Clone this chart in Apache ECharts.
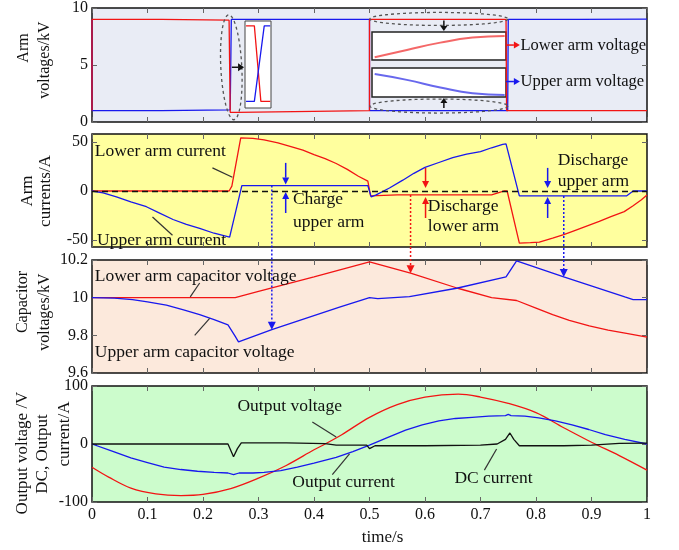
<!DOCTYPE html>
<html>
<head>
<meta charset="utf-8">
<script src="https://cdn.jsdelivr.net/npm/echarts@6/dist/echarts.min.js"></script>
<style>
  html, body { margin: 0; padding: 0; background: #fff; }
  #main { width: 679px; height: 550px; }
</style>
</head>
<body>
<div id="main"></div>
<script>
// ---- arm voltages (kV) ----
const armUpperT = [0, 0, 0.125, 0.126, 0.249, 0.251, 0.5, 0.5, 0.749, 0.75, 0.878, 0.879, 1]
const armUpperV = [9, 1, 1, 1.07, 1.07, 9, 9, 1, 1, 9, 9, 9.03, 9.03]
const armLowerT = [0, 0, 0.125, 0.126, 0.247, 0.249, 0.262, 0.264, 0.5, 0.5, 0.746, 0.747, 1]
const armLowerV = [1, 9, 9, 8.93, 8.93, 0.85, 0.85, 1.0, 1.0, 9, 9, 1, 1]
// zoomed insets of the arm voltage
const zoomSwapT = [0.04, 0.36, 0.61, 0.97]
const zoomSwapLower = [9, 9, 1, 1]
const zoomSwapUpperT = [0.04, 0.36, 0.74, 0.97]
const zoomSwapUpper = [1, 1, 9, 9]
const zoomRippleT = [0.02, 0.26, 0.51, 0.75, 0.99]
const zoomRippleLower = [0.1, 0.36, 0.62, 0.8, 0.86]
const zoomRippleUpper = [0.79, 0.59, 0.33, 0.13, 0.07]

// ---- arm currents (A) ----
const curLowerT = [0, 0.247, 0.252, 0.268, 0.29, 0.31, 0.335, 0.36, 0.38, 0.4, 0.42, 0.44, 0.46, 0.48, 0.497, 0.502, 0.55, 0.6, 0.65, 0.72, 0.743, 0.748, 0.77, 0.79, 0.806, 0.83, 0.85, 0.866, 0.89, 0.914, 0.935, 0.959, 0.975, 0.99, 1]
const curLowerV = [0, 0, 5, 54, 53.5, 52, 49, 45, 41.5, 37, 33, 28, 22, 15, 10, -5, -4, -4, -4, -4, 0, 0, -53, -52.5, -52, -48, -44.5, -41, -36, -31, -26, -21, -15, -9, -4]
const curUpperT = [0, 0.02, 0.044, 0.07, 0.098, 0.12, 0.146, 0.17, 0.194, 0.22, 0.248, 0.27, 0.4, 0.497, 0.503, 0.512, 0.536, 0.56, 0.58, 0.6, 0.625, 0.65, 0.675, 0.7, 0.72, 0.74, 0.746, 0.77, 0.9, 0.963, 0.975, 1]
const curUpperV = [0, -2, -6, -11, -16, -22, -29, -34, -38, -43, -47, 5.5, 5.5, 5.5, -6, -4, 3, 11, 18, 24, 29, 34, 37.5, 40, 44, 47.5, 48, -5, -5, -5, 0, 0]

// ---- capacitor voltages (kV) ----
const capLowerT = [0, 0.258, 0.3, 0.4, 0.45, 0.5, 0.574, 0.659, 0.72, 0.765, 0.8, 0.83, 0.86, 0.896, 0.93, 0.963, 1]
const capLowerV = [10, 10, 10.033, 10.11, 10.15, 10.19, 10.13, 10.05, 10.0, 9.985, 9.945, 9.91, 9.88, 9.85, 9.828, 9.81, 9.79]
const capUpperT = [0, 0.04, 0.073, 0.1, 0.134, 0.165, 0.194, 0.22, 0.245, 0.257, 0.264, 0.324, 0.446, 0.5, 0.515, 0.572, 0.657, 0.746, 0.765, 0.85, 0.96, 0.975, 1]
const capUpperV = [10, 9.998, 9.99, 9.978, 9.96, 9.935, 9.91, 9.883, 9.855, 9.8, 9.765, 9.83, 9.95, 10.0, 9.995, 10.005, 10.05, 10.11, 10.195, 10.11, 10.004, 9.99, 9.99]

// ---- output voltage / currents ----
const outVoltT = [0, 0.03, 0.07, 0.115, 0.16, 0.2, 0.25, 0.3, 0.35, 0.4, 0.42, 0.45, 0.5, 0.55, 0.6, 0.66, 0.7, 0.75, 0.8, 0.85, 0.9, 0.95, 1]
const outVolt = [-40, -57, -76, -86, -89, -87, -77, -59, -37, -10, 0, 16, 46, 68, 81, 86, 81, 70, 54, 28, 3, -20, -45]
const outCurT = [0, 0.035, 0.07, 0.1, 0.13, 0.16, 0.19, 0.22, 0.245, 0.255, 0.265, 0.29, 0.31, 0.34, 0.37, 0.4, 0.44, 0.47, 0.5, 0.53, 0.565, 0.595, 0.625, 0.655, 0.685, 0.715, 0.745, 0.75, 0.755, 0.78, 0.805, 0.835, 0.865, 0.895, 0.925, 0.96, 1]
const outCur = [0, -12, -24, -32, -40, -44, -47, -49, -50, -53, -50, -50, -49, -46, -40, -33, -23, -13, -2, 10, 24, 33, 40, 44, 46, 48, 49, 51, 49, 48, 45, 40, 33, 25, 16, 8, 0]
const dcCurT = [0, 0.245, 0.255, 0.262, 0.269, 0.35, 0.42, 0.44, 0.495, 0.5, 0.51, 0.6, 0.7, 0.73, 0.745, 0.753, 0.76, 0.77, 0.85, 0.9, 0.95, 1]
const dcCur = [0, 0, -22, -8, 2, 2, 0.5, -2, -2, -8, -3, -3, -2, 0, 8, 19, 8, -3, -3, -2, 1, 1.5]

// axis ranges / tick labels
const timeRange = [0, 1]
const yRanges = [[0, 10], [-57, 58], [9.6, 10.2], [-100, 100]]
const yTicks = [[0, 5, 10], [-50, 0, 50], [9.6, 9.8, 10, 10.2], [-100, 0, 100]]

const FONT = 'Liberation Serif'
const RED = '#f21414'
const BLUE = '#1818ee'
const INK = '#111'
const panels = [
  { top: 8, height: 114, bg: '#e9ecf5' },
  { top: 134, height: 113, bg: '#ffff9e' },
  { top: 260, height: 113, bg: '#fce9dc' },
  { top: 386, height: 116, bg: '#ccfccc' },
]
const insets = [
  { left: 245, top: 21, width: 26, height: 87, border: '#444', bw: 1, y: [0.3, 9.52] },
  { left: 372, top: 32, width: 134, height: 28, border: '#222', bw: 1.5, y: [0, 1] },
  { left: 372, top: 68, width: 134, height: 29, border: '#222', bw: 1.5, y: [0, 1] },
]

const zip = (t, v) => t.map((x, i) => [x, v[i]])
const chart = echarts.init(document.getElementById('main'))

function line(ax, t, v, color, extra) {
  return Object.assign({
    type: 'line', xAxisIndex: ax, yAxisIndex: ax, data: zip(t, v),
    showSymbol: false, symbol: 'none', animation: false, z: 3,
    lineStyle: { color: color, width: 1.3 }, itemStyle: { color: color },
  }, extra || {})
}

const tickStyle = { inside: true, length: 5, lineStyle: { color: '#666', width: 1 } }
const labelStyle = { fontFamily: FONT, fontSize: 16, color: INK }

const grid = panels.map(p => ({
  left: 92, width: 555, top: p.top, height: p.height, show: true,
  backgroundColor: p.bg, borderColor: INK, borderWidth: 1.5,
})).concat(insets.map(s => ({
  left: s.left, top: s.top, width: s.width, height: s.height, show: true, z: 3,
  backgroundColor: '#fff', borderColor: s.border, borderWidth: s.bw,
})))

const xAxis = []
const yAxis = []
// 0..3 bottom/left axes, 4..7 top/right axes, 8..10 inset axes
;['bottom', 'top'].forEach((pos, k) => {
  panels.forEach((p, i) => {
    xAxis.push({
      gridIndex: i, type: 'value', position: pos, min: timeRange[0], max: timeRange[1], interval: 0.1,
      axisLine: { show: false, onZero: false }, axisTick: tickStyle, splitLine: { show: false },
      axisLabel: Object.assign({ show: k === 0 && i === 3, margin: 5 }, labelStyle),
      name: k === 0 && i === 3 ? 'time/s' : '', nameLocation: 'middle', nameGap: 27,
      nameTextStyle: { fontFamily: FONT, fontSize: 17, color: INK, padding: [0, 0, 0, 26] },
    })
  })
})
;['left', 'right'].forEach((pos, k) => {
  panels.forEach((p, i) => {
    yAxis.push({
      gridIndex: i, type: 'value', position: pos, min: yRanges[i][0], max: yRanges[i][1],
      axisLine: { show: false, onZero: false }, splitLine: { show: false },
      axisTick: Object.assign({ customValues: yTicks[i] }, tickStyle),
      axisLabel: Object.assign({ show: k === 0, margin: 4, customValues: yTicks[i] }, labelStyle),
    })
  })
})
insets.forEach((s, j) => {
  xAxis.push({ gridIndex: 4 + j, type: 'value', min: 0, max: 1, show: false })
  yAxis.push({ gridIndex: 4 + j, type: 'value', min: s.y[0], max: s.y[1], show: false })
})

const series = [
  line(0, armUpperT, armUpperV, BLUE),
  line(0, armLowerT, armLowerV, RED),
  line(8, zoomSwapT, zoomSwapLower, RED, { z: 5 }),
  line(8, zoomSwapUpperT, zoomSwapUpper, BLUE, { z: 5 }),
  line(9, zoomRippleT, zoomRippleLower, 'rgba(240,40,40,0.7)', { z: 5, smooth: true, lineStyle: { color: 'rgba(240,40,40,0.7)', width: 2 } }),
  line(10, zoomRippleT, zoomRippleUpper, 'rgba(40,40,230,0.7)', { z: 5, smooth: true, lineStyle: { color: 'rgba(40,40,230,0.7)', width: 2 } }),
  line(1, curLowerT, curLowerV, RED),
  line(1, curUpperT, curUpperV, BLUE, {
    markLine: {
      silent: true, symbol: 'none', label: { show: false }, animation: false,
      lineStyle: { color: INK, type: [6, 4], width: 1.3 }, data: [{ yAxis: 0 }],
    },
  }),
  line(2, capLowerT, capLowerV, RED),
  line(2, capUpperT, capUpperV, BLUE),
  line(3, outVoltT, outVolt, RED, { smooth: 0.35 }),
  line(3, outCurT, outCur, BLUE),
  line(3, dcCurT, dcCur, INK),
]

chart.setOption({ animation: false, grid: grid, xAxis: xAxis, yAxis: yAxis, series: series })

// ---- annotations ----
const P = (ax, t, v) => chart.convertToPixel({ xAxisIndex: ax, yAxisIndex: ax }, [t, v])

function text(p, str, size, extra) {
  return Object.assign({
    type: 'text', x: p[0], y: p[1], z: 10, silent: true,
    style: {
      text: str, fontFamily: FONT, fontSize: size, fill: INK,
      align: 'left', verticalAlign: 'middle', textAlign: 'left', textVerticalAlign: 'middle',
    },
  }, extra || {})
}
function yName(x, y, str, size) {
  const t = text([x, y], str, size, { rotation: Math.PI / 2 })
  t.style.align = t.style.textAlign = 'center'
  return t
}
function seg(a, b, color, width, dash) {
  return {
    type: 'line', z: 10, silent: true,
    shape: { x1: a[0], y1: a[1], x2: b[0], y2: b[1] },
    style: { stroke: color, lineWidth: width || 1.2, lineDash: dash || null },
  }
}
function arrow(a, b, color, opt) {
  opt = opt || {}
  const dx = b[0] - a[0], dy = b[1] - a[1], len = Math.hypot(dx, dy)
  const ux = dx / len, uy = dy / len, hl = opt.head || 7, hw = opt.hw || 3.5
  const base = [b[0] - ux * hl, b[1] - uy * hl]
  return [
    seg(a, base, color, opt.w || 1.5, opt.dash),
    {
      type: 'polygon', z: 10, silent: true,
      shape: { points: [b, [base[0] - uy * hw, base[1] + ux * hw], [base[0] + uy * hw, base[1] - ux * hw]] },
      style: { fill: color },
    },
  ]
}
function ellipse(c, rx, ry, rot) {
  const pts = []
  for (let k = 0; k < 72; k++) {
    const a = k / 72 * 2 * Math.PI
    const x = rx * Math.cos(a), y = ry * Math.sin(a)
    pts.push([c[0] + x * Math.cos(rot) - y * Math.sin(rot), c[1] + x * Math.sin(rot) + y * Math.cos(rot)])
  }
  return {
    type: 'polygon', z: 10, silent: true, shape: { points: pts },
    style: { fill: 'transparent', stroke: '#555', lineWidth: 1.3, lineDash: [3, 3] },
  }
}

const g = []
// y axis titles
g.push(yName(24, 48, 'Arm', 16), yName(45, 60, 'voltages/kV', 16))
g.push(yName(28, 191, 'Arm', 17), yName(46, 191, 'currents/A', 17))
g.push(yName(23, 302, 'Capacitor', 16), yName(45, 312, 'voltages/kV', 16))
g.push(yName(23, 453, 'Output voltage /V', 17), yName(43, 454, 'DC, Output', 17), yName(65, 434, 'current/A', 17))

// panel 1: zoom marks
g.push(ellipse(P(0, 0.251, 4.8), 10.5, 52.5, -0.05))
g.push(...arrow(P(0, 0.252, 4.8), P(0, 0.274, 4.8), INK, { head: 6, hw: 4 }))
g.push(ellipse(P(0, 0.625, 9.04), 69, 6.5, 0))
g.push(ellipse(P(0, 0.625, 1.4), 69, 7, 0))
g.push(...arrow(P(0, 0.634, 8.9), P(0, 0.634, 7.98), INK, { head: 5, hw: 3.5 }))
g.push(...arrow(P(0, 0.634, 1.23), P(0, 0.634, 2.1), INK, { head: 5, hw: 3.5 }))
g.push(...arrow(P(0, 0.746, 6.75), P(0, 0.771, 6.75), RED, { head: 6, hw: 3.5 }))
g.push(text(P(0, 0.772, 6.7), 'Lower arm voltage', 16.5))
g.push(...arrow(P(0, 0.746, 3.55), P(0, 0.771, 3.55), BLUE, { head: 6, hw: 3.5 }))
g.push(text(P(0, 0.772, 3.5), 'Upper arm voltage', 16.5))

// panel 2
g.push(text(P(1, 0.005, 40), 'Lower arm current', 17.5))
g.push(seg(P(1, 0.217, 23.5), P(1, 0.253, 14), '#333'))
g.push(text(P(1, 0.009, -50), 'Upper arm current', 17.5))
g.push(seg(P(1, 0.109, -26.5), P(1, 0.145, -45), '#333'))
g.push(...arrow(P(1, 0.349, 28.6), P(1, 0.349, 6.5), BLUE))
g.push(...arrow(P(1, 0.349, -22.4), P(1, 0.349, -1), BLUE))
g.push(text(P(1, 0.362, -9), 'Charge', 17.5), text(P(1, 0.362, -31.5), 'upper arm', 17.5))
g.push(...arrow(P(1, 0.601, 23.5), P(1, 0.601, 3), RED))
g.push(...arrow(P(1, 0.601, -27.5), P(1, 0.601, -6), RED))
g.push(text(P(1, 0.605, -16), 'Discharge', 17.5), text(P(1, 0.605, -36), 'lower arm', 17.5))
g.push(...arrow(P(1, 0.821, 23.5), P(1, 0.821, 3), BLUE))
g.push(...arrow(P(1, 0.821, -27.5), P(1, 0.821, -6), BLUE))
g.push(text(P(1, 0.839, 31.6), 'Discharge', 17.5), text(P(1, 0.839, 9.5), 'upper arm', 17.5))

// links between current and capacitor voltage
g.push(...arrow(P(1, 0.324, 5.5), P(2, 0.324, 9.83), BLUE, { dash: [2, 2], head: 8, hw: 4 }))
g.push(...arrow(P(1, 0.574, -4), P(2, 0.574, 10.13), RED, { dash: [2, 2], head: 8, hw: 4 }))
g.push(...arrow(P(1, 0.85, -5), P(2, 0.85, 10.11), BLUE, { dash: [2, 2], head: 8, hw: 4 }))

// panel 3
g.push(text(P(2, 0.005, 10.115), 'Lower arm capacitor voltage', 17.5))
g.push(seg(P(2, 0.194, 10.078), P(2, 0.177, 10.004), '#333'))
g.push(text(P(2, 0.005, 9.711), 'Upper arm capacitor voltage', 17.5))
g.push(seg(P(2, 0.212, 9.89), P(2, 0.185, 9.8), '#333'))

// panel 4
g.push(text(P(3, 0.262, 64), 'Output voltage', 17.5))
g.push(seg(P(3, 0.397, 38), P(3, 0.44, 12), '#333'))
g.push(text(P(3, 0.361, -65.5), 'Output current', 17.5))
g.push(seg(P(3, 0.433, -53), P(3, 0.464, -17), '#333'))
g.push(text(P(3, 0.653, -60), 'DC current', 17.5))
g.push(seg(P(3, 0.707, -45), P(3, 0.729, -8.6), '#333'))

chart.setOption({ graphic: { elements: g } })
</script>
</body>
</html>
